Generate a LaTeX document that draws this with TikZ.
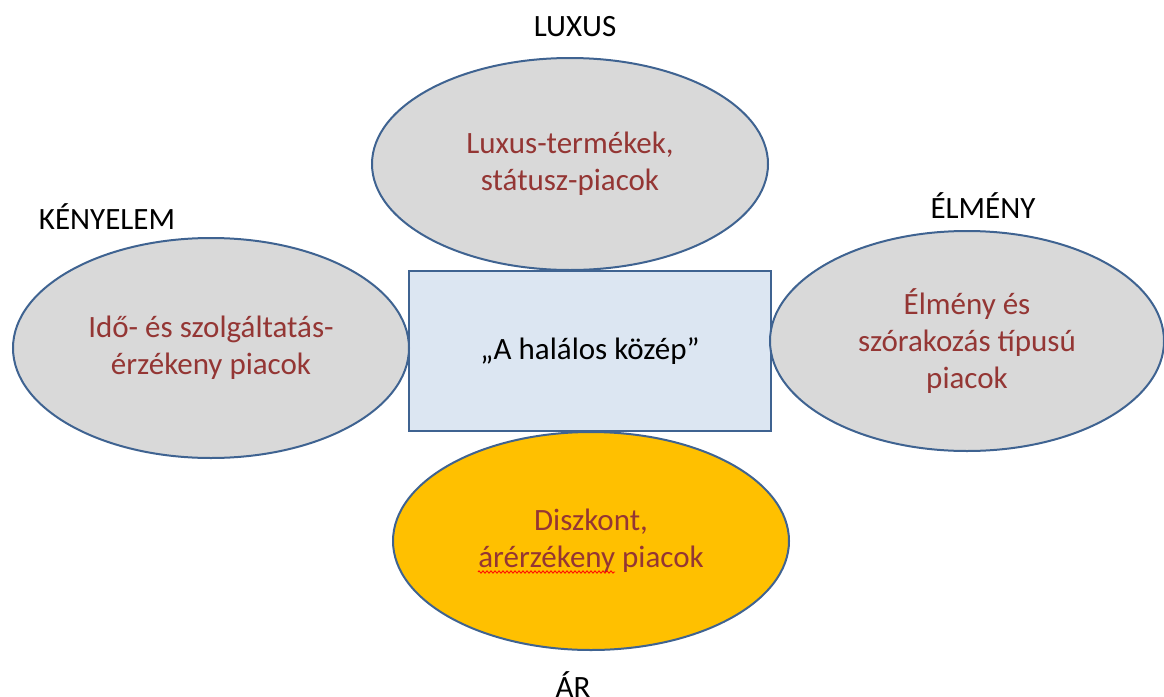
\documentclass[tikz,border=0pt]{standalone}
\usepackage{fontspec}
\setmainfont{Carlito}
\usetikzlibrary{shapes.geometric,decorations.pathmorphing}
\definecolor{edgeblue}{HTML}{3F6391}
\definecolor{grayfill}{HTML}{D9D9D9}
\definecolor{boxfill}{HTML}{DCE6F2}
\definecolor{darkred}{HTML}{943634}
\definecolor{gold}{HTML}{FFC000}
\tikzset{
  market/.style={ellipse, draw=edgeblue, line width=2pt, fill=grayfill, inner sep=0pt,
    text=darkred, align=center, font=\fontsize{31}{37}\selectfont},
  middlebox/.style={rectangle, draw=edgeblue, line width=2pt, fill=boxfill, inner sep=0pt,
    align=center, font=\fontsize{31}{37}\selectfont},
  axislabel/.style={inner sep=0pt, text=black, font=\fontsize{31}{37}\selectfont},
}
\begin{document}
\begin{tikzpicture}[x=1pt,y=-1pt]
\useasboundingbox (0,0) rectangle (1164,696);
\node[middlebox, minimum width=362pt, minimum height=160pt] (mid) at (590,351) {„A halálos közép”};
\node[market, minimum width=396pt, minimum height=212pt] (top) at (570,164) {Luxus-termékek,\\státusz-piacok};
\node[market, minimum width=396pt, minimum height=220pt] (left) at (211,348) {Idő- és szolgáltatás-\\érzékeny piacok};
\node[market, minimum width=394pt, minimum height=220pt] (right) at (967,341) {Élmény és\\szórakozás típusú\\piacok};
\node[market, fill=gold, minimum width=396pt, minimum height=218pt] (bot) at (591,541) {Diszkont,\\árérzékeny piacok};
\draw[red, line width=0.8pt, decorate, decoration={zigzag, segment length=4pt, amplitude=1.2pt}]
  ([xshift=-113pt, yshift=-31pt]bot.center) -- ([xshift=24pt, yshift=-31pt]bot.center);
\node[axislabel] (lux) at (575,27) {LUXUS};
\node[axislabel] (keny) at (107,217) {KÉNYELEM};
\node[axislabel] (elm) at (983,206) {ÉLMÉNY};
\node[axislabel] (ar) at (573,685) {ÁR};
\end{tikzpicture}
\end{document}
